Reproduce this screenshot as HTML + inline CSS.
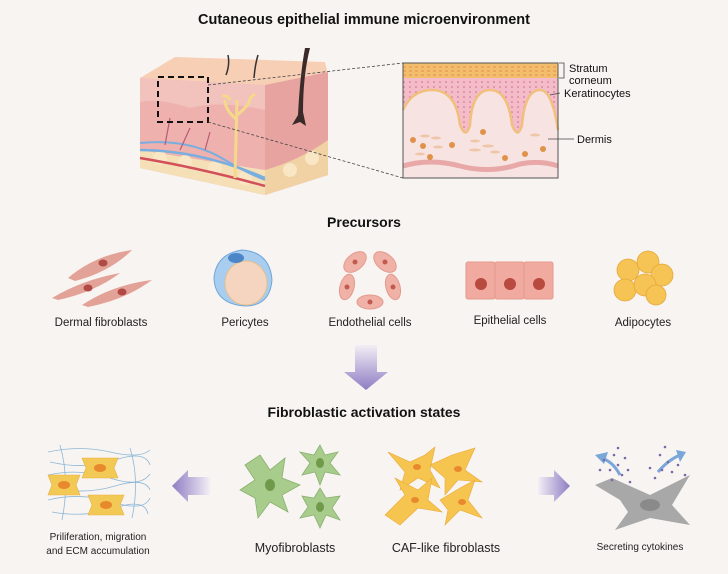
<!DOCTYPE html>
<html><head><meta charset="utf-8"><style>
html,body{margin:0;padding:0;background:#f8f4f1;}
svg{display:block;font-family:"Liberation Sans",Arial,sans-serif;}
</style></head><body>
<svg width="728" height="574" viewBox="0 0 728 574" xmlns="http://www.w3.org/2000/svg">
<defs>
<linearGradient id="ad" x1="0" y1="0" x2="0" y2="1"><stop offset="0" stop-color="#f3eef5"/><stop offset="1" stop-color="#8e7cc3"/></linearGradient>
<linearGradient id="al" x1="1" y1="0" x2="0" y2="0"><stop offset="0" stop-color="#f3eef5"/><stop offset="1" stop-color="#8e7cc3"/></linearGradient>
<linearGradient id="ar" x1="0" y1="0" x2="1" y2="0"><stop offset="0" stop-color="#f3eef5"/><stop offset="1" stop-color="#8e7cc3"/></linearGradient>
<pattern id="dots" width="6" height="5" patternUnits="userSpaceOnUse"><circle cx="2" cy="2" r="0.8" fill="#c86a8a"/></pattern>
</defs>
<rect width="728" height="574" fill="#f8f4f1"/>
<text x="364" y="24" text-anchor="middle" font-size="14.5" font-weight="bold" fill="#111">Cutaneous epithelial immune microenvironment</text>

<!-- skin block -->
<polygon points="140,78 175,57 325,62 328,75 265,85" fill="#f6cfb4"/>
<polygon points="140,78 265,85 265,195 140,168" fill="#eeb1ad"/>
<polygon points="265,85 328,72 328,175 265,195" fill="#e6a3a0"/>
<path d="M140,78 L265,85 L265,110 Q220,100 190,108 Q160,98 140,102Z" fill="#f2c2bc"/>
<path d="M140,150 Q200,160 265,170 L265,195 L140,168Z" fill="#f5dfb6"/>
<path d="M265,170 Q300,160 328,140 L328,175 L265,195Z" fill="#f0d2a4"/>
<circle cx="160" cy="158" r="7" fill="#f8e6c4"/><circle cx="185" cy="162" r="7" fill="#f8e6c4"/><circle cx="215" cy="168" r="7" fill="#f8e6c4"/><circle cx="245" cy="178" r="7" fill="#f8e6c4"/><circle cx="290" cy="170" r="7" fill="#f8e6c4"/><circle cx="312" cy="158" r="7" fill="#f8e6c4"/>
<path d="M140,150 Q200,150 265,178" stroke="#79aee0" stroke-width="2.5" fill="none"/>
<path d="M140,143 Q190,138 225,160 Q245,172 265,180" stroke="#79aee0" stroke-width="2" fill="none"/>
<path d="M140,158 Q200,168 265,186" stroke="#d2505a" stroke-width="2.5" fill="none"/>
<path d="M165,145 L170,118 M180,150 L190,128 M205,150 L210,132" stroke="#b95a76" stroke-width="1.2" fill="none"/>
<path d="M235,178 L237,100 M237,120 Q225,110 225,100 M237,115 Q250,105 250,98 M230,100 Q228,95 222,96 M250,98 L255,94" stroke="#f4d98a" stroke-width="3" fill="none"/>
<path d="M228,55 Q230,65 226,75 M258,55 Q255,65 254,78" stroke="#333" stroke-width="1.5" fill="none"/>
<path d="M305,48 Q300,75 298,115 L292,125 L300,122 L306,126 L303,112 Q303,75 310,48" fill="#3a2a2a"/>
<rect x="158" y="77" width="50" height="45" fill="none" stroke="#111" stroke-width="2" stroke-dasharray="6,4"/>
<line x1="208" y1="85" x2="403" y2="63" stroke="#444" stroke-width="0.8" stroke-dasharray="3,2"/>
<line x1="208" y1="122" x2="403" y2="178" stroke="#444" stroke-width="0.8" stroke-dasharray="3,2"/>

<!-- zoom box -->
<rect x="403" y="63" width="155" height="115" fill="#f8e3e3"/>
<rect x="403" y="63" width="155" height="15" fill="#f2be6c"/>
<path d="M403,67 H558 M403,71 H558 M403,75 H558" stroke="#e1804e" stroke-width="0.8" stroke-dasharray="3,3"/>
<path d="M403,78 H558 V130 Q552,90 540,90 Q525,90 522,125 Q518,140 512,125 Q508,90 490,90 Q472,90 470,125 Q466,140 460,125 Q456,90 432,90 Q412,90 403,110Z" fill="#f4bcc8"/>
<path d="M403,78 H558 V130 Q552,90 540,90 Q525,90 522,125 Q518,140 512,125 Q508,90 490,90 Q472,90 470,125 Q466,140 460,125 Q456,90 432,90 Q412,90 403,110Z" fill="url(#dots)"/>
<path d="M558,130 Q552,90 540,90 Q525,90 522,125 Q518,140 512,125 Q508,90 490,90 Q472,90 470,125 Q466,140 460,125 Q456,90 432,90 Q412,90 403,110" fill="none" stroke="#f0c07c" stroke-width="2.5"/>
<path d="M403,166 Q430,158 460,166 Q490,174 520,164 Q540,160 558,166" fill="none" stroke="#e8a8a8" stroke-width="5"/>
<g fill="#e0914a"><circle cx="413" cy="140" r="3"/><circle cx="423" cy="146" r="3"/><circle cx="452" cy="145" r="3"/><circle cx="483" cy="132" r="3"/><circle cx="505" cy="158" r="3"/><circle cx="525" cy="154" r="3"/><circle cx="543" cy="149" r="3"/><circle cx="430" cy="157" r="3"/></g>
<g fill="#eec7a8"><ellipse cx="425" cy="136" rx="5" ry="1.5"/><ellipse cx="436" cy="138" rx="5" ry="1.5"/><ellipse cx="438" cy="147" rx="5" ry="1.5"/><ellipse cx="475" cy="141" rx="5" ry="1.5"/><ellipse cx="488" cy="146" rx="6" ry="1.5"/><ellipse cx="475" cy="150" rx="6" ry="1.5"/><ellipse cx="495" cy="152" rx="5" ry="1.5"/><ellipse cx="535" cy="135" rx="5" ry="1.5"/><ellipse cx="420" cy="154" rx="5" ry="1.5"/></g>
<rect x="403" y="63" width="155" height="115" fill="none" stroke="#555" stroke-width="1"/>
<path d="M559,63 H564 V78 H559" fill="none" stroke="#444" stroke-width="0.8"/>
<line x1="550" y1="95" x2="560" y2="93" stroke="#444" stroke-width="0.8"/>
<line x1="548" y1="139" x2="574" y2="139" stroke="#444" stroke-width="0.8"/>
<g font-size="11" fill="#111"><text x="569" y="72">Stratum</text><text x="569" y="84">corneum</text><text x="564" y="97">Keratinocytes</text><text x="577" y="143">Dermis</text></g>

<text x="364" y="227" text-anchor="middle" font-size="14" font-weight="bold" fill="#111">Precursors</text>
<!-- dermal fibroblasts -->
<g fill="#e3a297"><path d="M68,278 Q95,255 132,250 Q110,272 75,281Z"/><path d="M52,298 Q82,280 120,273 Q95,292 58,300Z"/><path d="M82,305 Q112,285 152,280 Q125,300 88,307Z"/></g>
<g fill="#b04a45"><ellipse cx="103" cy="263" rx="4.5" ry="3.5"/><ellipse cx="88" cy="288" rx="4.5" ry="3.5"/><ellipse cx="122" cy="292" rx="4.5" ry="3.5"/></g>
<!-- pericytes -->
<path d="M242,250 Q270,252 272,280 Q270,306 245,306 Q215,304 214,278 Q216,254 242,250Z" fill="#a9cdee" stroke="#6ea6da"/>
<ellipse cx="246" cy="283" rx="21" ry="22" fill="#f6d5c0" stroke="#e6c08a"/>
<ellipse cx="236" cy="258" rx="8" ry="5" fill="#4d86c8"/>
<!-- endothelial -->
<g fill="#f0b2a6" stroke="#e49a8e">
<ellipse cx="355" cy="262" rx="8" ry="13" transform="rotate(50 355 262)"/><ellipse cx="385" cy="262" rx="8" ry="13" transform="rotate(-50 385 262)"/><ellipse cx="393" cy="287" rx="7" ry="13" transform="rotate(-15 393 287)"/><ellipse cx="370" cy="302" rx="13" ry="7"/><ellipse cx="347" cy="287" rx="7" ry="13" transform="rotate(15 347 287)"/></g>
<g fill="#c25a50"><circle cx="355" cy="262" r="2.5"/><circle cx="385" cy="262" r="2.5"/><circle cx="393" cy="287" r="2.5"/><circle cx="370" cy="302" r="2.5"/><circle cx="347" cy="287" r="2.5"/></g>
<!-- epithelial -->
<g fill="#f0aaa0" stroke="#e49a8e"><rect x="466" y="262" width="29" height="37" rx="2"/><rect x="495" y="262" width="29" height="37" rx="2"/><rect x="524" y="262" width="29" height="37" rx="2"/></g>
<g fill="#b94a40"><circle cx="481" cy="284" r="6"/><circle cx="510" cy="284" r="6"/><circle cx="539" cy="284" r="6"/></g>
<!-- adipocytes -->
<g fill="#f5c454" stroke="#e5a83a" stroke-width="0.8"><circle cx="628" cy="270" r="11"/><circle cx="648" cy="262" r="11"/><circle cx="662" cy="275" r="11"/><circle cx="625" cy="290" r="11"/><circle cx="645" cy="285" r="11"/><circle cx="656" cy="295" r="10"/></g>
<g font-size="11.5" fill="#222" text-anchor="middle"><text x="101" y="326">Dermal fibroblasts</text><text x="245" y="326">Pericytes</text><text x="370" y="326">Endothelial cells</text><text x="510" y="324">Epithelial cells</text><text x="643" y="326">Adipocytes</text></g>

<path d="M355,345 H377 V372 H388 L366,390 L344,372 H355Z" fill="url(#ad)"/>
<text x="364" y="417" text-anchor="middle" font-size="14" font-weight="bold" fill="#111">Fibroblastic activation states</text>

<!-- ECM -->
<g stroke="#8cb8d8" stroke-width="0.8" fill="none">
<path d="M48,452 Q80,445 110,452 T150,450"/><path d="M50,462 Q85,470 115,460 T150,465"/><path d="M48,475 Q80,468 110,478 T150,474"/><path d="M52,488 Q85,495 115,486 T150,490"/><path d="M48,500 Q80,492 112,502 T150,498"/><path d="M52,512 Q85,518 115,508 T148,514"/><path d="M60,445 Q70,480 62,520"/><path d="M130,448 Q140,480 132,518"/></g>
<g fill="#f3c956" stroke="#e8b040" stroke-width="0.6"><path d="M82,458 H118 L114,468 L118,478 H82 L86,468Z"/><path d="M48,475 H80 L76,485 L80,495 H48 L52,485Z"/><path d="M88,495 H124 L120,505 L124,515 H88 L92,505Z"/></g>
<g fill="#e8892e"><ellipse cx="100" cy="468" rx="6" ry="4"/><ellipse cx="64" cy="485" rx="6" ry="4"/><ellipse cx="106" cy="505" rx="6" ry="4"/></g>
<path d="M210,477 H188 V470 L172,486 L188,502 V495 H210Z" fill="url(#al)"/>
<!-- myofibroblasts -->
<g fill="#a8cc8c" stroke="#89b070" stroke-width="0.8">
<polygon points="260,455 270,470 285,458 282,478 300,485 282,495 288,512 270,502 258,518 255,498 240,490 255,480 245,465"/>
<polygon points="320,445 325,455 338,452 330,463 340,475 325,472 320,485 315,472 302,475 310,463 300,452 314,455"/>
<polygon points="320,488 326,498 340,496 332,508 340,520 326,515 320,528 314,515 300,518 308,507 302,496 314,498"/>
</g>
<g fill="#6e9a4a"><ellipse cx="270" cy="485" rx="5" ry="6"/><ellipse cx="320" cy="463" rx="4" ry="5"/><ellipse cx="320" cy="507" rx="4" ry="5"/></g>
<!-- CAF -->
<g fill="#f6c550" stroke="#eaa93a" stroke-width="0.6">
<polygon points="388,452 410,462 425,455 435,447 430,470 440,488 418,478 400,490 405,472"/>
<polygon points="430,465 452,455 475,448 465,470 482,482 458,480 445,495 445,478"/>
<polygon points="385,515 405,495 395,478 418,490 432,478 428,500 442,512 418,508 400,525"/>
<polygon points="440,500 460,488 475,480 468,500 482,518 460,510 445,525 448,510"/>
</g>
<g fill="#e8892e"><ellipse cx="417" cy="467" rx="4" ry="3"/><ellipse cx="458" cy="469" rx="4" ry="3"/><ellipse cx="415" cy="500" rx="4" ry="3"/><ellipse cx="462" cy="502" rx="4" ry="3"/></g>
<path d="M538,477 H554 V470 L570,486 L554,502 V495 H538Z" fill="url(#ar)"/>
<!-- secreting cell -->
<polygon points="620,500 595,485 612,478 650,495 690,475 672,505 690,525 650,518 615,530 628,512" fill="#a8a8a8"/>
<ellipse cx="650" cy="505" rx="10" ry="6" fill="#8a8a8a"/>
<path d="M620,475 Q612,460 600,458" stroke="#7aa6d8" stroke-width="3" fill="none"/><polygon points="595,455 608,452 604,464" fill="#7aa6d8"/>
<path d="M658,472 Q668,460 680,455" stroke="#7aa6d8" stroke-width="3" fill="none"/><polygon points="686,452 676,450 680,462" fill="#7aa6d8"/>
<g fill="#7a68aa"><circle cx="604" cy="460" r="1.3"/><circle cx="614" cy="455" r="1.3"/><circle cx="618" cy="465" r="1.3"/><circle cx="622" cy="475" r="1.3"/><circle cx="610" cy="470" r="1.3"/><circle cx="628" cy="470" r="1.3"/><circle cx="618" cy="448" r="1.3"/><circle cx="625" cy="458" r="1.3"/><circle cx="630" cy="482" r="1.3"/><circle cx="600" cy="470" r="1.3"/><circle cx="660" cy="455" r="1.3"/><circle cx="668" cy="462" r="1.3"/><circle cx="662" cy="470" r="1.3"/><circle cx="672" cy="472" r="1.3"/><circle cx="655" cy="478" r="1.3"/><circle cx="678" cy="465" r="1.3"/><circle cx="665" cy="447" r="1.3"/><circle cx="650" cy="468" r="1.3"/><circle cx="685" cy="475" r="1.3"/><circle cx="612" cy="480" r="1.3"/></g>
<g fill="#222" text-anchor="middle"><text x="98" y="540" font-size="10">Priliferation, migration</text><text x="98" y="554" font-size="10">and ECM accumulation</text><text x="295" y="552" font-size="12.5">Myofibroblasts</text><text x="446" y="552" font-size="12.5">CAF-like fibroblasts</text><text x="640" y="550" font-size="10">Secreting cytokines</text></g>
</svg>
</body></html>
